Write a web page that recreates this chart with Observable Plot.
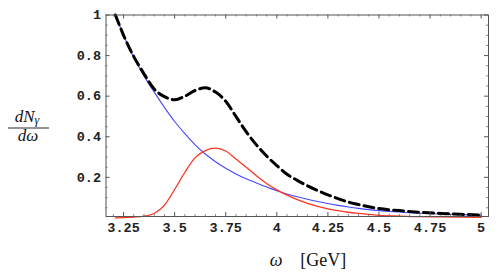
<!DOCTYPE html>
<html><head><meta charset="utf-8">
<script src="https://cdn.jsdelivr.net/npm/d3@7"></script>
<script src="https://cdn.jsdelivr.net/npm/@observablehq/plot@0.6"></script>
<style>body{margin:0;background:#fff}</style>
</head><body><div id="chart"></div>
<script>
const omega      = [3.21, 3.25, 3.30, 3.35, 3.40, 3.45, 3.50, 3.55, 3.60, 3.65, 3.70, 3.75, 3.80, 3.85, 3.90, 3.95, 4.00, 4.05, 4.10, 4.15, 4.20, 4.25, 4.30, 4.35, 4.40, 4.45, 4.50, 4.60, 4.70, 4.80, 4.90, 5.00];
const background = [1.00, 0.90, 0.79, 0.70, 0.62, 0.545, 0.475, 0.415, 0.36, 0.315, 0.277, 0.245, 0.217, 0.193, 0.172, 0.152, 0.134, 0.118, 0.104, 0.092, 0.081, 0.071, 0.062, 0.054, 0.047, 0.041, 0.036, 0.029, 0.023, 0.019, 0.016, 0.014];
const signal     = [0.0, 0.001, 0.004, 0.009, 0.022, 0.063, 0.14, 0.225, 0.297, 0.332, 0.344, 0.33, 0.29, 0.25, 0.208, 0.17, 0.138, 0.112, 0.09, 0.072, 0.057, 0.045, 0.036, 0.028, 0.022, 0.017, 0.013, 0.009, 0.006, 0.005, 0.004, 0.003];
const total      = [1.00, 0.90, 0.795, 0.71, 0.635, 0.598, 0.582, 0.60, 0.628, 0.641, 0.62, 0.575, 0.50, 0.425, 0.36, 0.305, 0.258, 0.215, 0.185, 0.158, 0.135, 0.114, 0.095, 0.078, 0.066, 0.055, 0.046, 0.036, 0.028, 0.022, 0.018, 0.014];
const xTicks = [3.25, 3.5, 3.75, 4, 4.25, 4.5, 4.75, 5];
const yTicks = [0.2, 0.4, 0.6, 0.8, 1];
const xTickLabels = ["3.25", "3.5", "3.75", "4", "4.25", "4.5", "4.75", "5"];
const yTickLabels = ["0.2", "0.4", "0.6", "0.8", "1"];
const xMinor = d3.range(64, 101).map(k => k / 20).filter(v => !xTicks.some(t => Math.abs(t - v) < 1e-6));
const yMinor = d3.range(1, 20).map(k => k / 20).filter(v => !yTicks.some(t => Math.abs(t - v) < 1e-6));

const W = 504, H = 274, mL = 105.5, mR = 16, mT = 14.5, mB = 58;
const fw = W - mL - mR, fh = H - mT - mB;
const rows = vals => omega.map((w, i) => ({w, v: vals[i]}));
const frameColor = "#555";

const plot = Plot.plot({
  width: W, height: H,
  marginLeft: mL, marginRight: mR, marginTop: mT, marginBottom: mB,
  x: {domain: [3.164, 5.036]},
  y: {domain: [0.007, 1]},
  style: {fontFamily: "'Liberation Mono', monospace", fontSize: "13.5px", color: "#222", background: "#fff"},
  marks: [
    Plot.line(rows(background), {x: "w", y: "v", stroke: "#4646ff", strokeWidth: 1.1, curve: "monotone-x"}),
    Plot.line(rows(signal), {x: "w", y: "v", stroke: "#ff3322", strokeWidth: 1.3, curve: "monotone-x"}),
    Plot.line(rows(total), {x: "w", y: "v", stroke: "#000", strokeWidth: 3, strokeDasharray: "10,5", curve: "monotone-x"}),
    Plot.tickX(xTicks, {x: d => d, insetTop: fh - 4, stroke: frameColor}),
    Plot.tickX(xTicks, {x: d => d, insetBottom: fh - 4, stroke: frameColor}),
    Plot.tickX(xMinor, {x: d => d, insetTop: fh - 2, stroke: frameColor, strokeOpacity: 0.7}),
    Plot.tickX(xMinor, {x: d => d, insetBottom: fh - 2, stroke: frameColor, strokeOpacity: 0.7}),
    Plot.tickY(yTicks, {y: d => d, insetRight: fw - 4, stroke: frameColor}),
    Plot.tickY(yTicks, {y: d => d, insetLeft: fw - 4, stroke: frameColor}),
    Plot.tickY(yMinor, {y: d => d, insetRight: fw - 2, stroke: frameColor, strokeOpacity: 0.7}),
    Plot.tickY(yMinor, {y: d => d, insetLeft: fw - 2, stroke: frameColor, strokeOpacity: 0.7}),
    Plot.frame({stroke: frameColor, strokeWidth: 1}),
    Plot.axisX(xTicks, {tickSize: 0, tickPadding: 6, tickFormat: (d, i) => xTickLabels[i], label: null, fontWeight: "bold"}),
    Plot.axisY(yTicks, {tickSize: 0, tickPadding: 5, tickFormat: (d, i) => yTickLabels[i], label: null, fontWeight: "bold"})
  ]
});
document.getElementById("chart").appendChild(plot);

const svg = d3.select(plot);
const serif = "'Liberation Serif', 'DejaVu Serif', serif";
// y-axis label: fraction dNγ / dω
const num = svg.append("text").attr("x", 27).attr("y", 121.5).attr("text-anchor", "middle")
  .attr("font-family", serif).attr("font-size", 17).attr("font-weight", "normal").attr("font-style", "italic").attr("fill", "#111");
num.append("tspan").text("dN");
num.append("tspan").attr("dy", 2).attr("font-size", 12).text("γ");
svg.append("line").attr("x1", 8).attr("x2", 49).attr("y1", 128).attr("y2", 128)
  .attr("stroke", "#111").attr("stroke-width", 0.9);
svg.append("text").attr("x", 28).attr("y", 141).attr("text-anchor", "middle")
  .attr("font-family", serif).attr("font-size", 17).attr("font-weight", "normal").attr("font-style", "italic").attr("fill", "#111").text("dω");
// x-axis label
const xl = svg.append("text").attr("x", 308).attr("y", 266).attr("text-anchor", "middle")
  .attr("font-family", serif).attr("font-size", 18).attr("font-weight", "normal").attr("fill", "#111");
xl.append("tspan").attr("font-style", "italic").text("ω");
xl.append("tspan").attr("xml:space", "preserve").text("\u2002\u2002[GeV]");
</script>
</body></html>
